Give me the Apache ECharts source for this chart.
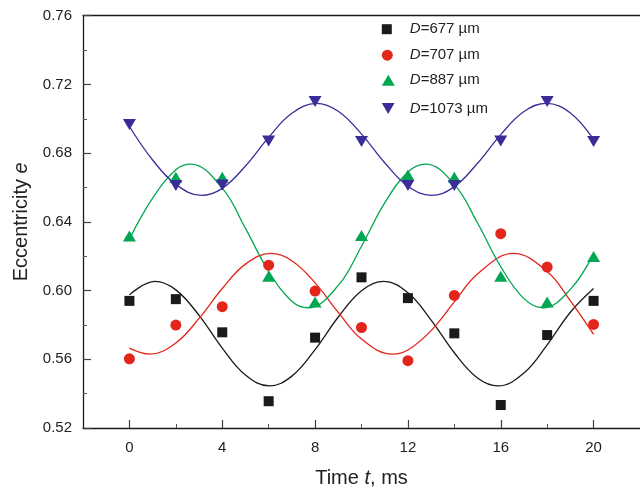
<!DOCTYPE html>
<html><head><meta charset="utf-8">
<script src="https://cdn.jsdelivr.net/npm/echarts@6/dist/echarts.min.js"></script>
<style>html,body{margin:0;padding:0;background:#fff}#c{width:640px;height:493px}</style>
</head><body><div id="c"></div>
<script>
// ---- data ----
const sampleTimes = [0, 2, 4, 6, 8, 10, 12, 14, 16, 18, 20];
const seriesNames = ['D=677 µm', 'D=707 µm', 'D=887 µm', 'D=1073 µm'];
const d677 = [0.594, 0.595, 0.5757, 0.5356, 0.5726, 0.6077, 0.5956, 0.5751, 0.5334, 0.5741, 0.594];
const d707 = [0.5603, 0.5799, 0.5906, 0.6148, 0.5997, 0.5785, 0.5592, 0.5972, 0.6331, 0.6137, 0.5803];
const d887 = [0.6318, 0.6659, 0.6659, 0.6083, 0.5933, 0.6321, 0.6672, 0.6659, 0.6083, 0.5933, 0.6198];
const d1073 = [0.6966, 0.6611, 0.6615, 0.687, 0.71, 0.6868, 0.6611, 0.6611, 0.687, 0.71, 0.6868];
// fitted curves (times include the read extrema)
const fit677T = [0, 1.1, 2, 3, 4, 5, 6.03, 7, 8, 9, 10, 10.95, 12, 13, 14, 15, 15.88, 17, 18, 19, 20];
const fit677 = [0.5975, 0.6053, 0.6004, 0.5856, 0.5665, 0.5508, 0.5445, 0.5502, 0.5656, 0.5846, 0.5999, 0.6053, 0.5987, 0.5828, 0.5638, 0.5491, 0.5445, 0.5520, 0.5684, 0.5874, 0.6012];
const fit707T = [0, 0.88, 2, 3, 4, 5, 6.1, 7, 8, 9, 10, 11.33, 12, 13, 14, 15, 16.55, 18, 19, 20];
const fit707 = [0.5665, 0.5630, 0.5695, 0.5838, 0.6012, 0.6154, 0.6216, 0.6174, 0.6045, 0.5873, 0.5718, 0.5630, 0.5654, 0.5767, 0.5934, 0.6097, 0.6216, 0.6111, 0.5940, 0.5745];
const fit887T = [0, 1, 2, 2.64, 4, 5, 6, 7, 7.7, 9, 10, 11, 12, 12.76, 14, 15, 16, 17, 17.82, 19, 20];
const fit887 = [0.6300, 0.6538, 0.6703, 0.6736, 0.6596, 0.6362, 0.6112, 0.5938, 0.5900, 0.6030, 0.6258, 0.6510, 0.6690, 0.6736, 0.6618, 0.6393, 0.6139, 0.5953, 0.5900, 0.6007, 0.6215];
const fit1073T = [0, 1, 2, 3.11, 4, 5, 6, 7, 8.06, 9, 10, 11, 12, 13.01, 14, 15, 16, 17, 17.96, 19, 20];
const fit1073 = [0.6955, 0.6760, 0.6618, 0.6554, 0.6595, 0.6725, 0.6892, 0.7032, 0.7090, 0.7044, 0.6911, 0.6744, 0.6607, 0.6554, 0.6605, 0.6741, 0.6908, 0.7042, 0.7090, 0.7034, 0.6880];
const xTickValues = [0, 4, 8, 12, 16, 20];
const xMinorValues = [2, 6, 10, 14, 18];

// ---- build ----
const FONT = 'Liberation Sans, Arial, Helvetica, sans-serif';
const colors = ['#1a1a1a', '#e3261c', '#00a651', '#3a2d98'];
const symbols = ['rect', 'circle', 'triangle', 'path://M0,0L20,0L10,17.32Z'];
const sizes = [[10, 10], [11, 11], [13, 11], [13, 11]];
const pts = [d677, d707, d887, d1073];
const fits = [[fit677T, fit677], [fit707T, fit707], [fit887T, fit887], [fit1073T, fit1073]];
const legendCenters = [30.7, 56.7, 81.7, 110];

const series = [];
fits.forEach(([T, f], i) => {
  series.push({
    type: 'line', name: 'fit' + i, data: T.map((t, k) => [t, f[k]]),
    smooth: 0.4, showSymbol: false, silent: true,
    lineStyle: { color: colors[i], width: 1.3 }, z: 2
  });
});
pts.forEach((p, i) => {
  series.push({
    type: 'scatter', name: seriesNames[i], data: sampleTimes.map((t, k) => [t, p[k]]),
    symbol: symbols[i], symbolSize: sizes[i],
    itemStyle: { color: colors[i], opacity: 1 }, z: 3
  });
});

const legends = seriesNames.map((n, i) => ({
  data: [n], left: 388.3 - 6.5, top: legendCenters[i] - 9, padding: 0,
  itemWidth: sizes[i][0], itemHeight: sizes[i][1], selectedMode: false,
  formatter: name => '{s|}{i|D}{n|' + name.slice(1) + '}',
  textStyle: {
    fontFamily: FONT, fontSize: 15, color: '#222',
    rich: {
      s: { width: 10 - (sizes[i][0] - 13) },
      i: { fontFamily: FONT, fontSize: 15, fontStyle: 'italic', color: '#222' },
      n: { fontFamily: FONT, fontSize: 15, color: '#222' }
    }
  }
}));

const axisLineX = { show: true, onZero: false, lineStyle: { color: '#1a1a1a', width: 1.3 } };
const axisLineY = { show: true, onZero: false, lineStyle: { color: '#1a1a1a', width: 1.3 } };
const option = {
  backgroundColor: '#fff',
  animation: false,
  grid: { left: 83, top: 15.7, width: 560.4, height: 416.6, containLabel: false },
  legend: legends,
  xAxis: [
    {
      type: 'value', min: -2, max: 22, position: 'bottom',
      axisLine: axisLineX, splitLine: { show: false },
      axisTick: { show: true, inside: true, length: 8, customValues: xTickValues, lineStyle: { color: '#444', width: 1.2 } },
      axisLabel: { show: true, customValues: xTickValues, margin: 12, fontFamily: FONT, fontSize: 15, color: '#222' },
      name: '{n|Time }{i|t}{n|, ms}', nameLocation: 'middle', nameGap: 40,
      nameTextStyle: {
        fontFamily: FONT, fontSize: 20, color: '#222',
        rich: { n: { fontFamily: FONT, fontSize: 20, color: '#222' }, i: { fontFamily: FONT, fontSize: 20, fontStyle: 'italic', color: '#222' } }
      }
    },
    {
      type: 'value', min: -2, max: 22, position: 'bottom',
      axisLine: { show: false, onZero: false }, splitLine: { show: false }, axisLabel: { show: false },
      axisTick: { show: true, inside: true, length: 4, customValues: xMinorValues, lineStyle: { color: '#555', width: 1 } }
    },
    {
      type: 'value', min: -2, max: 22, position: 'top',
      axisLine: axisLineX, splitLine: { show: false }, axisLabel: { show: false }, axisTick: { show: false }
    }
  ],
  yAxis: {
    type: 'value', min: 0.52, max: 0.76, interval: 0.04, position: 'left',
    axisLine: axisLineY, splitLine: { show: false },
    axisTick: { show: true, inside: true, length: 8, lineStyle: { color: '#444', width: 1.2 } },
    minorTick: { show: true, splitNumber: 2, length: 4, lineStyle: { color: '#555', width: 1 } },
    axisLabel: { formatter: v => v.toFixed(2), margin: 11, fontFamily: FONT, fontSize: 15, color: '#222' },
    name: '{n|Eccentricity }{i|e}', nameLocation: 'middle', nameGap: 52, nameRotate: 90,
    nameTextStyle: {
      fontFamily: FONT, fontSize: 20, color: '#222',
      rich: { n: { fontFamily: FONT, fontSize: 20, color: '#222' }, i: { fontFamily: FONT, fontSize: 20, fontStyle: 'italic', color: '#222' } }
    }
  },
  series: series
};
const chart = echarts.init(document.getElementById('c'), null, { renderer: 'canvas' });
chart.setOption(option);
</script></body></html>
